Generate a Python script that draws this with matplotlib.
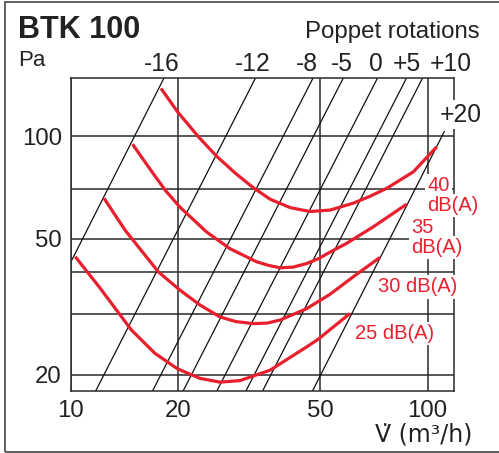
import numpy as np
import matplotlib
matplotlib.use("Agg")
import matplotlib.pyplot as plt
from matplotlib.patches import Rectangle
from matplotlib.transforms import blended_transform_factory

plt.rcParams['font.family'] = ['Liberation Sans', 'DejaVu Sans']

# ---- data ----
# poppet rotation lines: flow (m3/h) at 100 Pa and at 20 Pa
rot_labels = ['-16', '-12', '-8', '-5', '0', '+5', '+10', '+20']
rot_v_at_100 = [15.1, 27.2, 39.4, 47.9, 59.7, 72.0, 79.9, 109.7]
rot_v_at_20 = [6.93, 12.4, 17.9, 21.8, 27.1, 32.7, 36.4, 50.2]
rot_p_max = [None, None, None, None, None, None, None, 103.0]
rot_label_v = [18.0, 32.4, 45.9, 57.4, 71.6, 87.5, 116.2]

# sound level curves
v40 = [17.9, 19.9, 22.8, 25.6, 28.9, 32.4, 36.2, 41.2, 46.8, 53.3, 61.9, 68.9, 76.8, 91.2, 106.0]
p40 = [138, 118, 99.5, 87.4, 77.9, 70.7, 65.3, 61.7, 60.1, 60.7, 63.6, 66.6, 70.3, 78.6, 93.0]
v35 = [14.9, 16.5, 18.4, 20.2, 24.0, 27.9, 33.2, 35.8, 38.6, 42.0, 45.8, 49.6, 53.3, 59.3, 70.4, 87.4]
p35 = [94.7, 81.3, 69.4, 62.0, 52.4, 46.8, 42.8, 41.8, 41.1, 41.3, 42.3, 43.8, 45.7, 48.5, 54.2, 63.2]
v30 = [12.4, 14.2, 17.6, 20.2, 23.0, 26.2, 29.0, 32.5, 35.5, 38.6, 45.8, 53.3, 61.9, 73.5]
p30 = [65.7, 53.0, 40.0, 35.4, 32.0, 29.5, 28.6, 28.2, 28.3, 28.9, 31.2, 34.4, 38.7, 44.1]
v25 = [10.3, 12.0, 14.8, 17.2, 19.9, 23.0, 26.2, 29.8, 36.2, 45.8, 49.4, 53.3, 60.6]
p25 = [44.3, 36.2, 27.0, 23.1, 20.8, 19.5, 19.0, 19.2, 20.6, 24.1, 25.4, 27.1, 30.2]

x_ticks = [10, 20, 50, 100]
y_grid = [20, 30, 40, 50, 70, 100]
y_labels = ['20', '', '', '50', '', '100']

RED = '#e8202e'
GRID = '#2a2a2a'

fig = plt.figure(figsize=(4.99, 4.53), dpi=100)
ax = fig.add_axes([0.1417, 0.1369, 0.9098 - 0.1417, 0.8278 - 0.1369])
ax.set_xscale('log')
ax.set_yscale('log')
ax.set_xlim(10, 118.5)
ax.set_ylim(17.9, 148)

ax.set_xticks(x_ticks)
ax.set_xticklabels([str(t) for t in x_ticks])
ax.set_yticks(y_grid)
ax.set_yticklabels(y_labels)
ax.minorticks_off()
ax.tick_params(axis='both', length=0, labelsize=17.3, colors='#222')
ax.tick_params(axis='x', pad=6.5)
ax.tick_params(axis='y', pad=6.3)
ax.set_axisbelow(True)
ax.grid(True, which='major', color=GRID, lw=1.1)
for s in ax.spines.values():
    s.set_color(GRID)
    s.set_linewidth(1.1)

# poppet lines
for lab, v1, v2, pm in zip(rot_labels, rot_v_at_100, rot_v_at_20, rot_p_max):
    n = np.log(100 / 20) / np.log(v1 / v2)
    ptop = pm if pm is not None else 170.0
    ps = np.array([15.0, ptop])
    vs = v2 * (ps / 20.0) ** (1.0 / n)
    ax.plot(vs, ps, color='#111111', lw=0.9, zorder=2)

# sound curves
for v, p in [(v40, p40), (v35, p35), (v30, p30), (v25, p25)]:
    ax.plot(v, p, color=RED, lw=2.3, zorder=3, solid_capstyle='butt', solid_joinstyle='round')

# top rotation labels
tr = blended_transform_factory(ax.transData, ax.transAxes)
for lab, lv in zip(rot_labels[:7], rot_label_v):
    ax.text(lv, 1.0208, lab, transform=tr, ha='center', va='baseline',
            fontsize=17.7, color='#222', clip_on=False)
ax.text(108.3, 110.1, rot_labels[7], ha='left', va='baseline', fontsize=17.7,
        color='#222', clip_on=False, zorder=6,
        bbox=dict(boxstyle='square,pad=0.1', fc='white', ec='none'))

# dB labels
bb = dict(boxstyle='square,pad=0.1', fc='white', ec='none')
db_texts = [('40', 0.9303, 0.6399), ('dB(A)', 0.9303, 0.5760),
            ('35', 0.8878, 0.5038), ('dB(A)', 0.8878, 0.4399),
            ('30 dB(A)', 0.8025, 0.3147), ('25 dB(A)', 0.7417, 0.1652)]
for t, x, y in db_texts:
    ax.text(x, y, t, transform=ax.transAxes, ha='left', va='baseline',
            fontsize=14.5, color=RED, clip_on=False, zorder=6, bbox=bb)

# titles
fig.text(0.0361, 0.9161, 'BTK 100', fontsize=22, fontweight='bold', color='#222',
         ha='left', va='baseline')
fig.text(0.0361, 0.8543, 'Pa', fontsize=16, color='#222', ha='left', va='baseline')
fig.text(0.9619, 0.9155, 'Poppet rotations', fontsize=17.3, color='#222',
         ha='right', va='baseline')
fig.text(0.9459, 0.0249, 'V\u0307 (m\u00b3/h)', fontsize=17, color='#222',
         ha='right', va='baseline', family=['DejaVu Sans'])

fig.add_artist(Rectangle((5 / 499, 1.5 / 453), 1.0, 449.5 / 453,
                         transform=fig.transFigure, fill=False, ec='#444', lw=1.2))

fig.savefig('out.png', dpi=100)
